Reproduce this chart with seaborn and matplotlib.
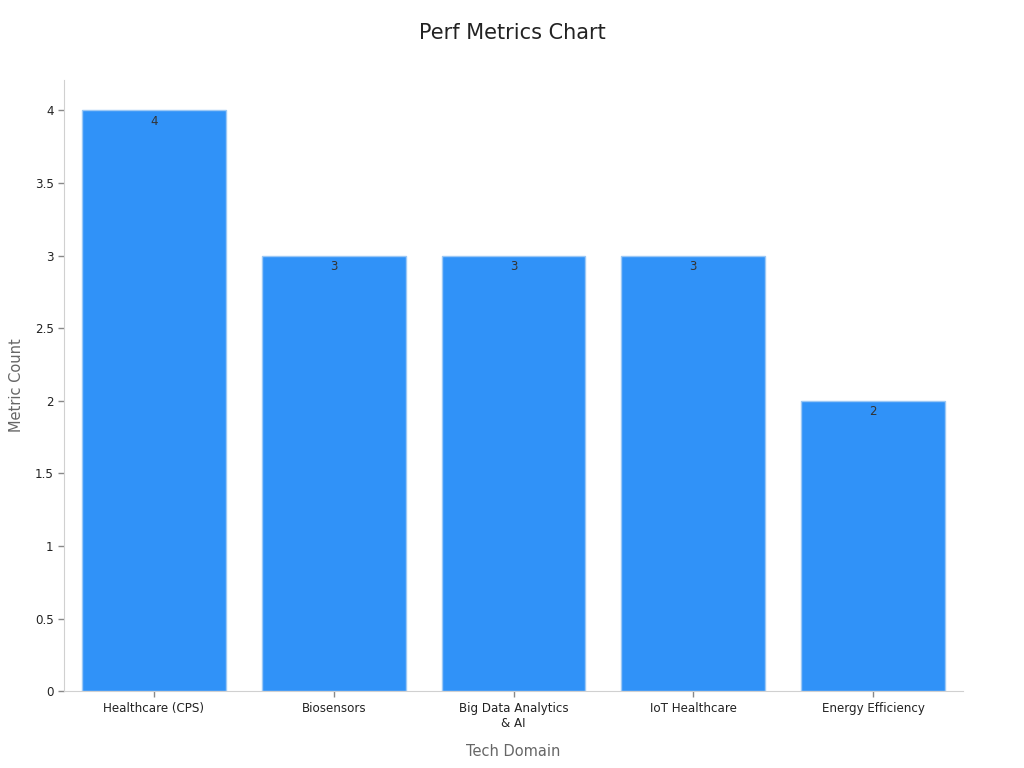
import pandas as pd
import matplotlib.pyplot as plt
import seaborn as sns
from matplotlib.ticker import FuncFormatter

# chart data
domains = ['Healthcare (CPS)', 'Biosensors', 'Big Data Analytics\n& AI', 'IoT Healthcare', 'Energy Efficiency']
metric_counts = [4, 3, 3, 3, 2]

df = pd.DataFrame({'Tech Domain': domains, 'Metric Count': metric_counts})

sns.set_style('white')
plt.rcParams['font.family'] = ['DejaVu Sans']
plt.rcParams['xtick.bottom'] = True
plt.rcParams['ytick.left'] = True

fig = plt.figure(figsize=(10.24, 7.68), dpi=100)
ax = fig.add_axes([0.0625, 0.1, 0.878, 0.796])

sns.barplot(data=df, x='Tech Domain', y='Metric Count', color='#3092F8',
            saturation=1, width=0.8, edgecolor='#9CC8F5', linewidth=1, ax=ax)

for bar, val in zip(ax.patches, metric_counts):
    ax.text(bar.get_x() + bar.get_width() / 2, val - 0.03, f'{val}',
            ha='center', va='top', fontsize=8.5, color='#333333')

ax.set_xlim(-0.5, 4.5)
ax.set_ylim(0, 4.21)
ax.set_yticks([0, 0.5, 1, 1.5, 2, 2.5, 3, 3.5, 4])
ax.yaxis.set_major_formatter(FuncFormatter(lambda v, p: f'{v:g}'))

for side in ['top', 'right']:
    ax.spines[side].set_visible(False)
for side in ['left', 'bottom']:
    ax.spines[side].set_color('#D0D0D0')

ax.tick_params(axis='both', labelsize=8.6, labelcolor='#222222', length=4, width=1,
               color='#888888', bottom=True, left=True)

ax.set_xlabel('Tech Domain', fontsize=10.5, color='#666666', labelpad=10)
ax.set_ylabel('Metric Count', fontsize=10.5, color='#666666', labelpad=8)
fig.suptitle('Perf Metrics Chart', fontsize=15, color='#222222', y=0.97)

fig.savefig('out.png', dpi=100)
